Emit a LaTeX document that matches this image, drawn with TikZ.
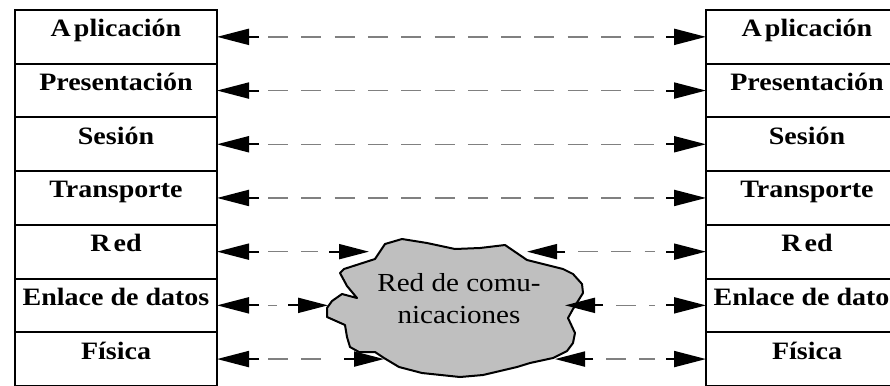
\documentclass[tikz,border=0pt]{standalone}
\usepackage{fontspec}
\setmainfont{Liberation Serif}[FakeStretch=1.12]
\usetikzlibrary{arrows.meta}
\definecolor{cloudfill}{gray}{0.75}
\definecolor{dashgray}{gray}{0.5}
\begin{document}
\begin{tikzpicture}[x=1bp,y=-1bp,
  layer/.style={draw=black, line width=2bp, outer sep=0pt, inner xsep=0pt, inner ysep=0pt,
    minimum width=202bp, text height=26.85bp, text depth=26.85bp,
    font=\fontsize{25bp}{30bp}\selectfont\bfseries},
  dashes/.style={draw=dashgray, line width=1.5bp, dash pattern=on 20bp off 13.3bp,
    shorten <=51bp, shorten >=51bp},
  boxtip/.style={draw=black, line width=2bp, -{Triangle[length=32bp,width=16bp]}},
  cloudtip/.style={draw=black, line width=2bp, -{Triangle[length=30bp,width=15bp]}},
  cloud/.style={draw=black, line width=2bp, fill=cloudfill, line join=round},
  cloudtext/.style={align=center, inner sep=0pt, font=\fontsize{26bp}{32.5bp}\selectfont}
]
\clip (0,0) rectangle (890,385);

% left protocol stack
\node[layer] (L1) at (116,36.85)  {A\kern3bp plicación};
\node[layer] (L2) at (116,90.55)  {Presentación};
\node[layer] (L3) at (116,144.25) {Sesión};
\node[layer] (L4) at (116,197.95) {Transporte};
\node[layer] (L5) at (116,251.65) {R\kern3bp ed};
\node[layer] (L6) at (116,305.35) {Enlace de datos};
\node[layer] (L7) at (116,359.05) {Física};

% right protocol stack
\node[layer] (R1) at (807,36.85)  {A\kern3bp plicación};
\node[layer] (R2) at (807,90.55)  {Presentación};
\node[layer] (R3) at (807,144.25) {Sesión};
\node[layer] (R4) at (807,197.95) {Transporte};
\node[layer] (R5) at (807,251.65) {R\kern3bp ed};
\node[layer] (R6) at (807,305.35) {Enlace de datos};
\node[layer] (R7) at (807,359.05) {Física};

% communication network cloud
\draw[cloud] (402,239) -- (427,243) -- (455,249) -- (480,248) -- (505,245) -- (527,260)
  -- (563,269) -- (573,274) -- (582,284) -- (583,293) -- (578,301) -- (573,309)
  -- (568,318) -- (575,333) -- (573,343) -- (567,351) -- (553,358) -- (530,363)
  -- (517,367) -- (483,375) -- (460,377) -- (422,373) -- (399,367) -- (384,358)
  -- (375,352) -- (359,352) -- (350,347) -- (347,337) -- (345,325) -- (327,317)
  -- (327,308) -- (332,301) -- (342,294) -- (357,298) -- (347,286) -- (340,273)
  -- (344,269) -- (375,259) -- (385,244) -- cycle;
\node[cloudtext] (net) at (459,298.4) {Red de comu-\\nicaciones};

% arrow ends on the cloud
\coordinate (cRedL) at (369,251.65);
\coordinate (cRedR) at (527,251.65);
\coordinate (cEnlL) at (328,305.35);
\coordinate (cEnlR) at (565,305.35);
\coordinate (cFisL) at (384,359.05);
\coordinate (cFisR) at (555,359.05);

% peer-to-peer layers (upper four)
\foreach \i in {1,2,3,4} {
  \draw[dashes] (L\i.east) -- (R\i.west);
  \draw[boxtip] (L\i.east) ++(42,0) -- (L\i.east);
  \draw[boxtip] (R\i.west) ++(-40,0) -- (R\i.west);
}

% lower three layers reach the network
\foreach \i/\a/\b in {5/cRedL/cRedR, 6/cEnlL/cEnlR, 7/cFisL/cFisR} {
  \draw[dashes] (L\i.east) -- (\a);
  \draw[dashes] (\b) -- (R\i.west);
  \draw[boxtip] (L\i.east) ++(42,0) -- (L\i.east);
  \draw[boxtip] (R\i.west) ++(-40,0) -- (R\i.west);
  \draw[cloudtip] (\a) ++(-40,0) -- (\a);
  \draw[cloudtip] (\b) ++(38,0) -- (\b);
}
\end{tikzpicture}
\end{document}
